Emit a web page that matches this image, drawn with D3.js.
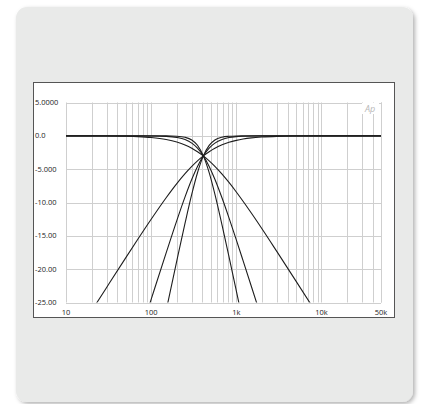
<!DOCTYPE html>
<html><head><meta charset="utf-8">
<script src="https://cdn.jsdelivr.net/npm/d3@7"></script>
<style>html,body{margin:0;padding:0;background:#fff;}svg{display:block;}</style>
</head><body>
<script>
// ---- data ----
const freqs = [10, 20, 30, 50, 70, 100, 150, 200, 250, 300, 350, 410, 480, 560, 680, 820, 1000, 1200, 1500, 2000, 3000, 5000, 8000, 20000, 50000];
const lowpass1  = [0, -0.01, -0.02, -0.06, -0.12, -0.25, -0.55, -0.93, -1.37, -1.86, -2.38, -3.01, -3.75, -4.57, -5.74, -6.99, -8.42, -9.81, -11.58, -13.94, -17.37, -21.75, -25.82, null, null];
const highpass1 = [-32.26, -26.25, -22.74, -18.34, -15.48, -12.51, -9.28, -7.16, -5.67, -4.58, -3.75, -3.01, -2.38, -1.86, -1.35, -0.97, -0.68, -0.48, -0.31, -0.18, -0.08, -0.03, -0.01, 0, 0];
const lowpass2  = [0, 0, 0, 0, 0, -0.02, -0.08, -0.24, -0.56, -1.10, -1.85, -3.01, -4.59, -6.51, -9.33, -12.30, -15.61, -18.72, -22.56, -27.54, null, null, null, null, null];
const highpass2 = [null, null, null, -36.55, -30.71, -24.53, -17.55, -12.71, -9.16, -6.52, -4.60, -3.01, -1.85, -1.10, -0.54, -0.26, -0.12, -0.06, -0.02, -0.01, 0, 0, 0, 0, 0];
const lowpass3  = [0, 0, 0, 0, 0, 0, -0.01, -0.06, -0.22, -0.62, -1.42, -3.01, -5.53, -8.75, -13.39, -18.13, -23.25, -27.99, null, null, null, null, null, null, null];
const highpass3 = [null, null, null, null, null, -36.77, -26.21, -18.76, -13.11, -8.76, -5.54, -3.01, -1.43, -0.62, -0.20, -0.07, -0.02, -0.01, 0, 0, 0, 0, 0, 0, 0];
const series = [lowpass1, highpass1, lowpass2, highpass2, lowpass3, highpass3];
const yTicks = [5, 0, -5, -10, -15, -20, -25];
const yTickLabels = ["5.0000", "0.0", "-5.000", "-10.00", "-15.00", "-20.00", "-25.00"];
const xTicks = [10, 100, 1000, 10000, 50000];
const xTickLabels = ["10", "100", "1k", "10k", "50k"];

const W = 423, H = 404;
const svg = d3.select("body").append("svg").attr("width", W).attr("height", H);
const defs = svg.append("defs");
const f = defs.append("filter").attr("id", "sh").attr("x", "-5%").attr("y", "-5%").attr("width", "115%").attr("height", "115%");
f.append("feDropShadow").attr("dx", 2).attr("dy", 2).attr("stdDeviation", 2).attr("flood-color", "#000").attr("flood-opacity", 0.3);

// card
svg.append("rect").attr("x", 16).attr("y", 7).attr("width", 397).attr("height", 395)
  .attr("rx", 11).attr("fill", "#e9eae9").attr("filter", "url(#sh)");
// white chart panel
svg.append("rect").attr("x", 33.5).attr("y", 82.5).attr("width", 361).attr("height", 235)
  .attr("fill", "#fff").attr("stroke", "#555").attr("stroke-width", 1);

const x = d3.scaleLog().domain([10, 50000]).range([66, 381]);
const y = d3.scaleLinear().domain([-25, 5]).range([302.5, 102.5]);

// grid
const gridF = [];
[10, 100, 1000, 10000].forEach(d => { for (let k = 1; k <= 9; k++) { const v = d * k; if (v <= 50000) gridF.push(v); } });
gridF.push(50000);
const g = svg.append("g");
g.selectAll("line.v").data(gridF).join("line")
  .attr("x1", d => Math.round(x(d)) + 0.5).attr("x2", d => Math.round(x(d)) + 0.5)
  .attr("y1", y(5)).attr("y2", y(-25)).attr("stroke", "#cfcfcf").attr("stroke-width", 1);
g.selectAll("line.h").data(yTicks).join("line")
  .attr("x1", x(10)).attr("x2", x(50000))
  .attr("y1", d => Math.round(y(d)) + 0.5).attr("y2", d => Math.round(y(d)) + 0.5)
  .attr("stroke", "#cfcfcf").attr("stroke-width", 1);

// logo
svg.append("rect").attr("x", 362).attr("y", 103).attr("width", 17).attr("height", 11).attr("fill", "#fff");
svg.append("text").attr("x", 370).attr("y", 112).attr("text-anchor", "middle")
  .attr("font-family", "'Open Sans', sans-serif").attr("font-style", "italic").attr("font-size", 9)
  .attr("fill", "#b8b8b8").text("Ap");

// axis labels
svg.append("g").selectAll("text").data(yTicks).join("text")
  .attr("x", 35).attr("y", d => y(d)).attr("dy", "0.35em")
  .attr("font-family", "'Open Sans', sans-serif").attr("font-size", 7.5).attr("fill", "#222")
  .text((d, i) => yTickLabels[i]);
svg.append("g").selectAll("text").data(xTicks).join("text")
  .attr("x", d => x(d)).attr("y", 312.5).attr("dy", "0.35em").attr("text-anchor", "middle")
  .attr("font-family", "'Open Sans', sans-serif").attr("font-size", 7.5).attr("fill", "#222")
  .text((d, i) => xTickLabels[i]);

// curves
defs.append("clipPath").attr("id", "clip").append("rect")
  .attr("x", x(10)).attr("y", y(5)).attr("width", x(50000) - x(10)).attr("height", y(-25) - y(5));
const line = d3.line()
  .defined(d => d[1] !== null)
  .x(d => x(d[0])).y(d => y(d[1]))
  .curve(d3.curveMonotoneX);
svg.append("g").attr("clip-path", "url(#clip)").selectAll("path").data(series).join("path")
  .attr("d", s => line(freqs.map((fq, i) => [fq, s[i]])))
  .attr("fill", "none").attr("stroke", "#1e1e1e").attr("stroke-width", 1.1);
</script>
</body></html>
